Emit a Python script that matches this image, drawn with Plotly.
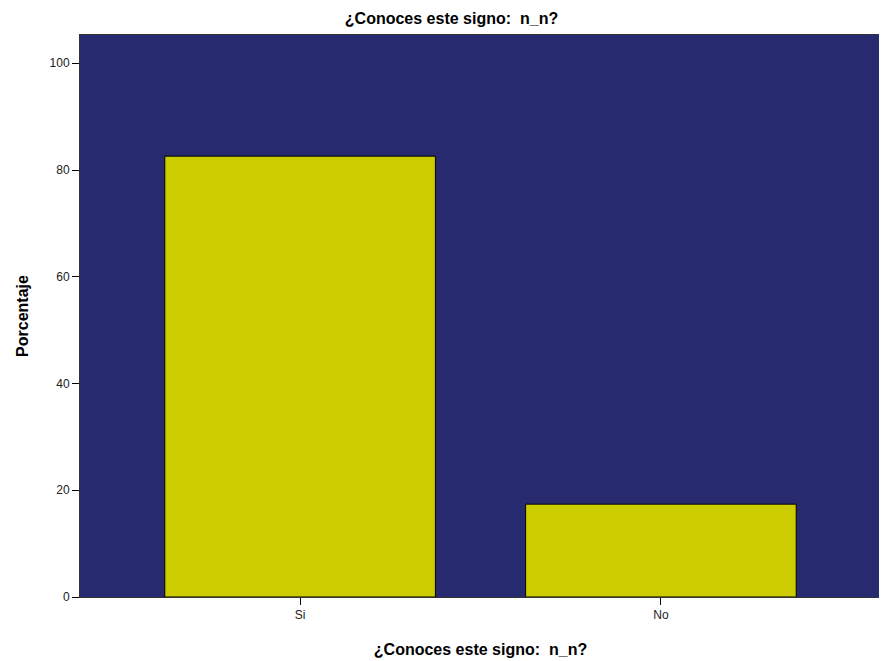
import plotly.graph_objects as go

# ── Data ─────────────────────────────────────────────
categories = ["Si", "No"]
percentages = [82.6, 17.4]
y_ticks = [0, 20, 40, 60, 80, 100]
title_text = "¿Conoces este signo:  n_n?"

fig = go.Figure()
fig.add_trace(go.Bar(
    x=categories, y=percentages, width=0.75,
    marker=dict(color="#cccc00", line=dict(color="#000000", width=1)),
))

# page body has an 8px margin, so offsets are shifted by 8px
fig.update_layout(
    width=887, height=661,
    margin=dict(l=72, r=14, t=27, b=72),
    paper_bgcolor="white", plot_bgcolor="#282a6f",
    font=dict(family="Liberation Sans, Arial", color="#000000"),
    showlegend=False,
    title=dict(text=f"<b>{title_text}</b>", x=0.5, xanchor="center",
               y=1 - 10 / 661, yanchor="middle", font=dict(size=16)),
)
fig.update_xaxes(
    range=[-0.61, 1.61], showgrid=False, ticks="outside", ticklen=7,
    tickcolor="#000", tickfont=dict(size=12, color="#222"),
    showline=True, linecolor="#333", linewidth=1, mirror=True,
    title=dict(text=f"<b>{title_text}</b>", font=dict(size=16), standoff=22),
)
fig.update_yaxes(
    range=[0, 105.3], tickvals=y_ticks, showgrid=False, zeroline=False,
    ticks="outside", ticklen=7, tickcolor="#000",
    tickfont=dict(size=12, color="#222"),
    showline=True, linecolor="#333", linewidth=1, mirror=True,
    title=dict(text="<b>Porcentaje</b>", font=dict(size=16), standoff=16),
)

fig.write_html("out.html")
